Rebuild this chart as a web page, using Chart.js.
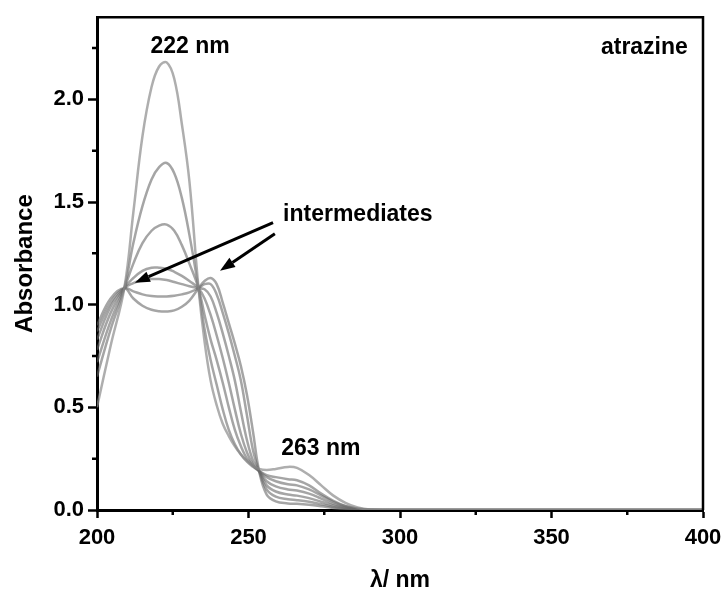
<!DOCTYPE html>
<html lang="en">
<head>
  <meta charset="UTF-8">
  <title>Atrazine UV spectra</title>
  <script src="https://cdn.jsdelivr.net/npm/chart.js"></script>
  <style>
    * { box-sizing: border-box; margin: 0; padding: 0; }
    body { background: #fff; }
  </style>
</head>
<body>
  <canvas id="specChart" width="723" height="596"></canvas>

  <script>
    // wavelength grid (nm) shared by all spectra
    const wavelengths = [200, 204.5, 209, 212, 215, 218, 220.5, 223, 225.5, 228, 230.5, 233.5, 235.5, 237.5,
      239.5, 241.5, 243.5, 245.5, 247.5, 249.5, 251.5, 253.5, 256, 259, 263, 266, 270, 274, 278, 282, 286, 290, 300, 400];

    // absorbance of each spectrum, from atrazine (first) to the last intermediate spectrum
    const specAtrazine = [0.50, 0.80, 1.08, 1.45, 1.82, 2.06, 2.16, 2.18, 2.10, 1.88, 1.60, 1.08, 0.82, 0.63,
      0.51, 0.42, 0.36, 0.31, 0.27, 0.24, 0.215, 0.20, 0.195, 0.20, 0.21, 0.205, 0.17, 0.12, 0.07, 0.035, 0.012, 0.002, 0, 0];
    const spec2 = [0.65, 0.88, 1.08, 1.30, 1.48, 1.61, 1.67, 1.69, 1.64, 1.52, 1.34, 1.08, 0.88, 0.73,
      0.61, 0.49, 0.39, 0.32, 0.27, 0.235, 0.21, 0.19, 0.17, 0.16, 0.15, 0.145, 0.12, 0.08, 0.045, 0.02, 0.007, 0.001, 0, 0];
    const spec3 = [0.72, 0.92, 1.08, 1.20, 1.30, 1.36, 1.385, 1.39, 1.36, 1.29, 1.20, 1.08, 0.95, 0.83,
      0.73, 0.62, 0.50, 0.39, 0.31, 0.25, 0.215, 0.19, 0.16, 0.14, 0.125, 0.12, 0.10, 0.07, 0.04, 0.018, 0.006, 0.001, 0, 0];
    const spec4 = [0.78, 0.96, 1.08, 1.13, 1.165, 1.18, 1.18, 1.175, 1.16, 1.14, 1.115, 1.08, 1.03, 0.95,
      0.85, 0.74, 0.62, 0.49, 0.37, 0.28, 0.22, 0.19, 0.14, 0.115, 0.10, 0.095, 0.08, 0.055, 0.03, 0.013, 0.004, 0, 0, 0];
    const spec5 = [0.83, 0.99, 1.08, 1.105, 1.12, 1.125, 1.125, 1.12, 1.11, 1.10, 1.09, 1.08, 1.075, 1.04,
      0.96, 0.86, 0.75, 0.63, 0.48, 0.34, 0.24, 0.19, 0.12, 0.09, 0.075, 0.07, 0.058, 0.04, 0.022, 0.01, 0.003, 0, 0, 0];
    const spec6 = [0.87, 1.01, 1.08, 1.065, 1.05, 1.042, 1.04, 1.04, 1.043, 1.05, 1.06, 1.08, 1.10, 1.10,
      1.05, 0.96, 0.86, 0.75, 0.63, 0.46, 0.29, 0.19, 0.10, 0.065, 0.052, 0.048, 0.04, 0.028, 0.015, 0.006, 0.002, 0, 0, 0];
    const spec7 = [0.90, 1.03, 1.08, 1.03, 0.995, 0.975, 0.968, 0.967, 0.972, 0.99, 1.02, 1.08, 1.115, 1.13,
      1.10, 1.01, 0.91, 0.81, 0.70, 0.56, 0.38, 0.19, 0.075, 0.042, 0.032, 0.03, 0.025, 0.018, 0.01, 0.004, 0.001, 0, 0, 0];

    const allSpectra = [specAtrazine, spec2, spec3, spec4, spec5, spec6, spec7];

    // axis ticks
    const xTicks = [200, 250, 300, 350, 400];
    const xMinorTicks = [225, 275, 325, 375];
    const yTicks = [0, 0.5, 1.0, 1.5, 2.0];
    const yMinorTicks = [0.25, 0.75, 1.25, 1.75, 2.25];

    // text notes and arrows, in data units (nm, absorbance)
    const notes = [
      { text: '222 nm', x: 230.7, y: 2.255, align: 'center' },
      { text: '263 nm', x: 273.9, y: 0.30, align: 'center' },
      { text: 'intermediates', x: 261.4, y: 1.44, align: 'left' },
      { text: 'atrazine', x: 395, y: 2.25, align: 'right' }
    ];
    const arrows = [
      { from: [258.1, 1.40], to: [212.5, 1.107] },
      { from: [258.7, 1.345], to: [240.6, 1.165] }
    ];

    const boldFont = (size) => ({ family: "'Liberation Sans', Arial, sans-serif", size: size, weight: 'bold' });

    const datasets = allSpectra.map((spec, i) => ({
      data: wavelengths.map((w, j) => ({ x: w, y: spec[j] })),
      borderColor: i === 0 ? 'rgba(140,140,140,0.7)' : 'rgba(105,105,105,0.6)',
      borderWidth: 2.5,
      pointRadius: 0,
      tension: 0.4,
      fill: false
    }));

    // frame, minor ticks, arrows and notes
    const decorPlugin = {
      id: 'decor',
      afterDraw(chart) {
        const { ctx, chartArea: a, scales: { x, y } } = chart;
        ctx.save();
        ctx.strokeStyle = '#000';
        ctx.lineWidth = 2.5;
        ctx.beginPath();
        ctx.moveTo(a.left, a.top);
        ctx.lineTo(a.right, a.top);
        ctx.lineTo(a.right, a.bottom);
        xMinorTicks.forEach(v => {
          const px = x.getPixelForValue(v);
          ctx.moveTo(px, a.bottom);
          ctx.lineTo(px, a.bottom + 5);
        });
        yMinorTicks.forEach(v => {
          const py = y.getPixelForValue(v);
          ctx.moveTo(a.left, py);
          ctx.lineTo(a.left - 5, py);
        });
        ctx.stroke();

        // arrows
        ctx.fillStyle = '#000';
        arrows.forEach(ar => {
          const x0 = x.getPixelForValue(ar.from[0]), y0 = y.getPixelForValue(ar.from[1]);
          const x1 = x.getPixelForValue(ar.to[0]), y1 = y.getPixelForValue(ar.to[1]);
          const ang = Math.atan2(y1 - y0, x1 - x0);
          const headLen = 15, headW = 5.5;
          const bx = x1 - headLen * Math.cos(ang), by = y1 - headLen * Math.sin(ang);
          ctx.lineWidth = 3;
          ctx.beginPath();
          ctx.moveTo(x0, y0);
          ctx.lineTo(bx, by);
          ctx.stroke();
          ctx.beginPath();
          ctx.moveTo(x1, y1);
          ctx.lineTo(bx + headW * Math.sin(ang), by - headW * Math.cos(ang));
          ctx.lineTo(bx - headW * Math.sin(ang), by + headW * Math.cos(ang));
          ctx.closePath();
          ctx.fill();
        });

        // text notes
        ctx.font = "bold 23px 'Liberation Sans', Arial, sans-serif";
        ctx.textBaseline = 'middle';
        notes.forEach(n => {
          ctx.textAlign = n.align;
          ctx.fillText(n.text, x.getPixelForValue(n.x), y.getPixelForValue(n.y));
        });
        ctx.restore();
      }
    };

    new Chart(document.getElementById('specChart'), {
      type: 'line',
      data: { datasets: datasets },
      options: {
        responsive: false,
        animation: false,
        layout: { padding: { top: 15, right: 0, left: 0, bottom: 0 } },
        plugins: { legend: { display: false }, tooltip: { enabled: false } },
        scales: {
          x: {
            type: 'linear',
            min: 200,
            max: 400,
            afterBuildTicks: s => { s.ticks = xTicks.map(v => ({ value: v })); },
            afterFit: s => { s.height = 86; s.paddingRight = 20; s.paddingLeft = 0; },
            ticks: { color: '#000', font: boldFont(22), padding: 7, maxRotation: 0, callback: v => String(v) },
            grid: { drawOnChartArea: false, drawTicks: true, tickLength: 8, tickColor: '#000', tickWidth: 2.5 },
            border: { display: true, color: '#000', width: 3 },
            title: { display: true, text: 'λ/ nm', color: '#000', font: boldFont(23), padding: { top: 0, bottom: 2 } }
          },
          y: {
            type: 'linear',
            min: 0,
            max: 2.4,
            afterBuildTicks: s => { s.ticks = yTicks.map(v => ({ value: v })); },
            afterFit: s => { s.width = 97; },
            ticks: { color: '#000', font: boldFont(22), padding: 4, callback: v => v.toFixed(1) },
            grid: { drawOnChartArea: false, drawTicks: true, tickLength: 9, tickColor: '#000', tickWidth: 2.5 },
            border: { display: true, color: '#000', width: 3 },
            title: { display: true, text: 'Absorbance', color: '#000', font: boldFont(24), padding: { top: 11, bottom: 0 } }
          }
        }
      },
      plugins: [decorPlugin]
    });
  </script>
</body>
</html>
